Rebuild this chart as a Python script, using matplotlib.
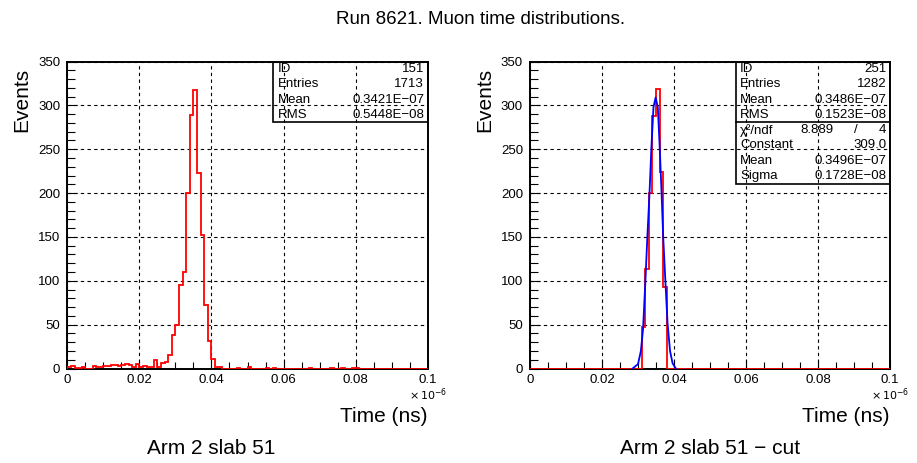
import numpy as np
import matplotlib
matplotlib.use("Agg")
import matplotlib.pyplot as plt
from matplotlib.patches import Rectangle
from matplotlib.ticker import MultipleLocator, FixedLocator, FixedFormatter

plt.rcParams['font.family'] = ['Liberation Sans', 'DejaVu Sans']

# 100 bins, 0 .. 0.1 (x 10^-6)
bin_edges = np.linspace(0.0, 0.1, 101)

# Arm 2 slab 51, all hits (ID 151)
counts_all = [2, 3, 1, 1, 2, 0, 0, 3, 2, 2,
              3, 3, 4, 4, 3, 4, 5, 4, 2, 5,
              2, 3, 2, 2, 10, 2, 6, 7, 15, 38,
              50, 95, 110, 200, 289, 318, 223, 152, 72, 31,
              11, 2, 2, 0, 0, 0, 0, 1, 0, 0,
              2, 0, 0, 0, 0, 1, 0, 1, 0, 0,
              0, 0, 0, 0, 0, 0, 0, 1, 0, 0,
              0, 0, 0, 1, 0, 0, 1, 0, 0, 1,
              1, 0, 0, 0, 0, 0, 0, 0, 0, 0,
              0, 0, 0, 0, 0, 0, 0, 0, 0, 0]

# Arm 2 slab 51 after cut (ID 251), only bins 31..37 filled
cut_first_bin = 31
counts_cut_nonzero = [47, 113, 200, 288, 319, 224, 93]

# gaussian fit curve as it appears on the right pad
fit_x = [0.0285, 0.0300, 0.0308, 0.0314, 0.0320, 0.0326, 0.0332, 0.0337,
         0.0343, 0.0349, 0.0355, 0.0360, 0.0365, 0.0370, 0.0376, 0.0382,
         0.0389, 0.0396, 0.0405]
fit_y = [0, 5, 20, 45, 95, 150, 200, 250, 298, 309, 298, 255, 205, 150, 100,
         52, 20, 6, 0]

stats_all = [("ID", "151"), ("Entries", "1713"),
             ("Mean", "0.3421E\u221207"), ("RMS", "0.5448E\u221208")]
stats_cut = [("ID", "251"), ("Entries", "1282"),
             ("Mean", "0.3486E\u221207"), ("RMS", "0.1523E\u221208")]
fit_chi2 = ("\u03c7\u00b2/ndf", "8.889", "4")
fit_pars = [("Constant", "309.0"), ("Mean", "0.3496E\u221207"),
            ("Sigma", "0.1728E\u221208")]

x_ticks = [0, 0.02, 0.04, 0.06, 0.08, 0.1]
x_tick_labels = ["0", "0.02", "0.04", "0.06", "0.08", "0.1"]
y_ticks = [0, 50, 100, 150, 200, 250, 300, 350]

W, H = 917, 463


def make_axes(fig, x0, x1, ytop, ybot):
    return fig.add_axes([x0 / W, 1 - ybot / H, (x1 - x0) / W, (ybot - ytop) / H])


def style_axes(ax):
    ax.set_xlim(0, 0.1)
    ax.set_ylim(0, 350)
    ax.xaxis.set_major_locator(FixedLocator(x_ticks))
    ax.xaxis.set_major_formatter(FixedFormatter(x_tick_labels))
    ax.xaxis.set_minor_locator(MultipleLocator(0.005))
    ax.yaxis.set_major_locator(FixedLocator(y_ticks))
    ax.yaxis.set_minor_locator(MultipleLocator(10))
    ax.tick_params(which='both', direction='in', top=False, right=False,
                   labelsize=9.5, width=0.8, color='black')
    ax.tick_params(axis='x', which='major', length=6.5, pad=4)
    ax.tick_params(axis='x', which='minor', length=4.8)
    ax.tick_params(axis='y', which='major', length=7, pad=5)
    ax.tick_params(axis='y', which='minor', length=6)
    for sp in ax.spines.values():
        sp.set_linewidth(1.4)
    ax.grid(True, which='major', color='black', linewidth=0.8,
            linestyle=(0, (3, 3)))
    ax.set_axisbelow(False)
    ax.text(1.0, -0.085, r'$\times\,10^{-6}$', transform=ax.transAxes,
            ha='center', va='center', fontsize=8)
    ax.text(1.0, -0.155, "Time (ns)", transform=ax.transAxes,
            ha='right', va='center', fontsize=15)


def stats_box(ax, rows, bottom, sep=None):
    ax.add_patch(Rectangle((0.572, bottom), 1 - 0.572, 1 - bottom,
                           transform=ax.transAxes, fill=False,
                           edgecolor='black', linewidth=1.2, zorder=5))
    if sep is not None:
        ax.plot([0.572, 1.0], [sep, sep], transform=ax.transAxes,
                color='black', linewidth=1.2, zorder=5)
    step = 0.0497
    for i, row in enumerate(rows):
        y = 1 - (i + 0.5) * step
        ax.text(0.584, y, row[0], transform=ax.transAxes, ha='left',
                va='center', fontsize=9.5, zorder=6)
        if len(row) == 3:
            ax.text(0.842, y, row[1], transform=ax.transAxes, ha='right',
                    va='center', fontsize=9.5, zorder=6)
            ax.text(0.905, y, "/", transform=ax.transAxes, ha='center',
                    va='center', fontsize=9.5, zorder=6)
            ax.text(0.99, y, row[2], transform=ax.transAxes, ha='right',
                    va='center', fontsize=9.5, zorder=6)
        else:
            ax.text(0.99, y, row[1], transform=ax.transAxes, ha='right',
                    va='center', fontsize=9.5, zorder=6)


def draw_figure():
    fig = plt.figure(figsize=(W / 100, H / 100), dpi=100)
    fig.text(481 / W, 1 - 19 / H, "Run 8621. Muon time distributions.",
             ha='center', va='center', fontsize=13.5)

    # left pad
    ax1 = make_axes(fig, 67.3, 427.7, 61.5, 368.5)
    style_axes(ax1)
    ax1.stairs(counts_all, bin_edges, color='#ff0000', linewidth=1.3, zorder=3)
    stats_box(ax1, stats_all, 0.802)
    fig.text(22 / W, 1 - 100 / H, "Events", rotation=90, ha='center',
             va='center', fontsize=15)
    fig.text(211 / W, 1 - 448 / H, "Arm 2 slab 51", ha='center',
             va='center', fontsize=15)

    # right pad
    counts_cut = np.zeros(100)
    counts_cut[cut_first_bin:cut_first_bin + len(counts_cut_nonzero)] = counts_cut_nonzero
    ax2 = make_axes(fig, 530, 890, 61.5, 368.5)
    style_axes(ax2)
    ax2.stairs(counts_cut, bin_edges, color='#ff0000', linewidth=1.3, zorder=3)
    ax2.plot(fit_x, fit_y, color='#0000ff', linewidth=1.3, zorder=4)
    stats_box(ax2, stats_cut + [fit_chi2] + fit_pars, 0.6, sep=0.802)
    fig.text(485 / W, 1 - 100 / H, "Events", rotation=90, ha='center',
             va='center', fontsize=15)
    fig.text(710 / W, 1 - 448 / H, "Arm 2 slab 51 \u2212 cut", ha='center',
             va='center', fontsize=15)

    fig.savefig('out.png', dpi=100)


if __name__ == "__main__":
    draw_figure()
